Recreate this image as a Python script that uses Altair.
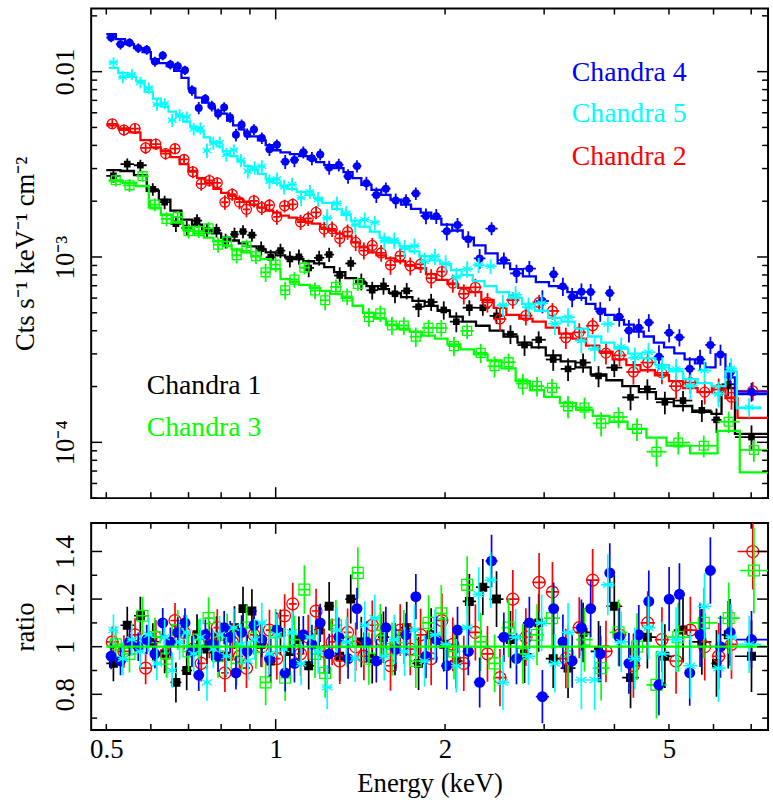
import altair as alt
import pandas as pd

FONT = "Liberation Serif"

# ---------------- data ----------------
# bin edges (keV), model (log10 cts/s/keV/cm2) per bin, data/model ratio, ratio error

# Chandra 1 (black)
c1_edges = [0.50, 0.53, 0.56, 0.59, 0.62, 0.65, 0.68, 0.71, 0.74, 0.77, 0.80, 0.83, 0.86, 0.89,
            0.925, 0.96, 1.00, 1.04, 1.08, 1.12, 1.17, 1.22, 1.27, 1.33, 1.39, 1.45,
            1.52, 1.59, 1.67, 1.75, 1.84, 1.94, 2.04, 2.15, 2.27, 2.40, 2.54, 2.69, 2.85, 3.02,
            3.21, 3.41, 3.63, 3.87, 4.13, 4.42, 4.74, 5.10, 5.50, 5.95, 6.20, 6.55, 7.50]
c1_model_log = [-2.531, -2.536, -2.558, -2.643, -2.691, -2.750, -2.798, -2.825, -2.852, -2.873,
                -2.895, -2.911, -2.927, -2.943, -2.959, -2.975, -2.991, -3.002, -3.012, -3.023,
                -3.034, -3.055, -3.082, -3.114, -3.141, -3.157, -3.173, -3.194, -3.216, -3.237,
                -3.264, -3.290, -3.322, -3.349, -3.371, -3.397, -3.429, -3.462, -3.488, -3.531,
                -3.563, -3.595, -3.633, -3.665, -3.697, -3.729, -3.766, -3.804, -3.836, -3.847,
                -3.708, -3.954]
c1_ratio = [0.93, 1.09, 1.13, 1.02, 0.97, 0.85, 0.90, 1.05, 0.99, 1.04,
            0.96, 1.08, 1.16, 1.15, 1.01, 0.94, 1.06, 0.98, 1.03, 0.92,
            1.07, 1.17, 0.96, 1.20, 1.02, 0.95, 1.04, 0.99, 1.08, 0.93,
            1.05, 1.01, 0.94, 1.19, 1.25, 1.20, 1.03, 0.97, 1.10, 0.95,
            0.91, 1.06, 0.98, 1.17, 0.87, 1.04, 0.96, 1.07, 1.02, 0.93, 1.05, 0.96]
c1_err = [0.075, 0.078, 0.080, 0.079, 0.082, 0.084, 0.083, 0.086, 0.085, 0.088,
          0.087, 0.090, 0.092, 0.091, 0.094, 0.093, 0.096, 0.098, 0.097, 0.100,
          0.099, 0.102, 0.104, 0.103, 0.106, 0.105, 0.108, 0.110, 0.109, 0.112,
          0.111, 0.114, 0.116, 0.115, 0.118, 0.117, 0.120, 0.122, 0.121, 0.124,
          0.126, 0.125, 0.128, 0.130, 0.129, 0.132, 0.134, 0.136, 0.138, 0.140, 0.142, 0.150]

# Chandra 2 (red)
c2_edges = [0.50, 0.525, 0.55, 0.575, 0.60, 0.625, 0.65, 0.675, 0.70, 0.725, 0.75, 0.775, 0.80,
            0.825, 0.85, 0.875, 0.90, 0.93, 0.96, 0.99, 1.02, 1.055, 1.09, 1.125, 1.16,
            1.20, 1.24, 1.28, 1.32, 1.365, 1.41, 1.46, 1.51, 1.57, 1.63, 1.70, 1.77, 1.85, 1.93,
            2.02, 2.11, 2.21, 2.32, 2.44, 2.57, 2.71, 2.86, 3.02, 3.19, 3.37, 3.56, 3.76, 3.97,
            4.20, 4.45, 4.72, 5.00, 5.30, 5.62, 5.96, 6.30, 6.62, 7.50]
c2_model_log = [-2.290, -2.306, -2.328, -2.370, -2.408, -2.429, -2.461, -2.499, -2.536, -2.574,
                -2.600, -2.633, -2.654, -2.670, -2.686, -2.702, -2.718, -2.734, -2.750, -2.761,
                -2.777, -2.788, -2.798, -2.809, -2.820, -2.841, -2.857, -2.873, -2.889, -2.921,
                -2.948, -2.975, -2.991, -3.007, -3.023, -3.044, -3.060, -3.092, -3.124, -3.146,
                -3.167, -3.189, -3.231, -3.274, -3.312, -3.333, -3.349, -3.381, -3.413, -3.440,
                -3.478, -3.510, -3.552, -3.584, -3.611, -3.638, -3.670, -3.707, -3.729, -3.697,
                -3.761, -3.868]
c2_ratio = [1.02, 0.98, 1.05, 0.91, 1.04, 0.97, 1.11, 1.06, 0.99, 0.93,
            1.03, 1.08, 0.89, 1.02, 0.96, 0.91, 1.05, 1.00, 1.07, 0.95,
            1.13, 1.18, 0.97, 1.04, 1.15, 0.98, 1.02, 0.94, 1.06, 1.00,
            0.96, 1.09, 1.03, 0.92, 1.07, 0.99, 1.05, 0.95, 1.11, 1.01,
            0.93, 1.06, 0.97, 0.87, 1.20, 1.04, 1.27, 1.23, 0.95, 1.08,
            1.28, 0.98, 1.05, 0.92, 1.10, 1.03, 0.94, 1.07, 1.00, 0.96, 1.01, 1.40]
c2_err = [0.065, 0.068, 0.070, 0.068, 0.072, 0.070, 0.074, 0.072, 0.075, 0.076,
          0.078, 0.077, 0.080, 0.079, 0.082, 0.084, 0.083, 0.086, 0.085, 0.088,
          0.090, 0.089, 0.092, 0.094, 0.093, 0.096, 0.098, 0.097, 0.100, 0.102,
          0.101, 0.104, 0.106, 0.105, 0.108, 0.110, 0.109, 0.112, 0.114, 0.113,
          0.116, 0.118, 0.117, 0.120, 0.122, 0.121, 0.124, 0.126, 0.125, 0.128,
          0.130, 0.129, 0.132, 0.134, 0.133, 0.136, 0.138, 0.140, 0.142, 0.140, 0.145, 0.160]

# Chandra 3 (green)
c3_edges = [0.505, 0.535, 0.565, 0.595, 0.625, 0.655, 0.685, 0.715, 0.745, 0.775, 0.805, 0.835,
            0.87, 0.905, 0.94, 0.98, 1.02, 1.06, 1.10, 1.15, 1.20, 1.25, 1.31, 1.37, 1.43,
            1.50, 1.57, 1.65, 1.73, 1.82, 1.92, 2.02, 2.13, 2.25, 2.38, 2.52, 2.67, 2.83, 3.00,
            3.20, 3.42, 3.66, 3.92, 4.22, 4.56, 4.95, 5.45, 6.10, 6.68, 7.50]
c3_model_log = [-2.590, -2.600, -2.617, -2.734, -2.772, -2.814, -2.852, -2.873, -2.895, -2.916,
                -2.938, -2.959, -2.975, -2.996, -3.012, -3.066, -3.119, -3.135, -3.151, -3.167,
                -3.183, -3.199, -3.221, -3.263, -3.301, -3.333, -3.365, -3.387, -3.403, -3.424,
                -3.440, -3.472, -3.499, -3.526, -3.558, -3.601, -3.670, -3.718, -3.755, -3.788,
                -3.825, -3.857, -3.889, -3.927, -3.975, -4.018, -4.060, -3.938, -4.162]
c3_ratio = [1.01, 0.97, 1.13, 1.04, 0.95, 1.07, 0.98, 1.03, 1.12, 0.96,
            1.05, 0.93, 1.08, 1.00, 0.85, 1.06, 0.87, 1.03, 1.24, 0.97,
            0.89, 1.09, 1.02, 1.31, 0.95, 1.07, 0.99, 1.04, 0.94, 1.10,
            1.14, 0.98, 1.26, 1.02, 0.93, 1.08, 0.97, 1.05, 1.12, 0.96,
            1.03, 0.91, 1.06, 1.00, 0.84, 1.04, 1.10, 1.12, 1.32]
c3_err = [0.075, 0.078, 0.080, 0.082, 0.081, 0.084, 0.086, 0.085, 0.088, 0.090,
          0.089, 0.092, 0.094, 0.093, 0.096, 0.098, 0.097, 0.100, 0.102, 0.101,
          0.104, 0.106, 0.105, 0.108, 0.110, 0.109, 0.112, 0.114, 0.113, 0.116,
          0.118, 0.117, 0.120, 0.122, 0.121, 0.124, 0.126, 0.128, 0.130, 0.132,
          0.134, 0.136, 0.138, 0.140, 0.142, 0.145, 0.148, 0.150, 0.180]

# Chandra 4 (blue)
c4_edges = [0.50, 0.52, 0.54, 0.56, 0.58, 0.60, 0.62, 0.64, 0.66, 0.68, 0.70, 0.72, 0.74, 0.76,
            0.78, 0.80, 0.82, 0.84, 0.86, 0.88, 0.90, 0.93, 0.96, 0.99, 1.02, 1.06, 1.10, 1.14,
            1.18, 1.22, 1.27, 1.32, 1.37, 1.42, 1.48, 1.54, 1.60, 1.67, 1.74, 1.81, 1.89, 1.97,
            2.06, 2.15, 2.25, 2.36, 2.48, 2.61, 2.75, 2.90, 3.06, 3.18, 3.30, 3.43, 3.56, 3.70,
            3.85, 4.00, 4.16, 4.33, 4.51, 4.70, 4.90, 5.11, 5.33, 5.56, 5.80, 6.05, 6.30, 6.55, 7.50]
c4_model_log = [-1.798, -1.825, -1.852, -1.873, -1.895, -1.932, -1.954, -1.970, -1.996, -2.034,
                -2.092, -2.140, -2.167, -2.189, -2.210, -2.226, -2.264, -2.290, -2.312, -2.328,
                -2.349, -2.371, -2.397, -2.424, -2.435, -2.445, -2.456, -2.472, -2.488, -2.504,
                -2.520, -2.542, -2.574, -2.611, -2.638, -2.665, -2.691, -2.718, -2.740, -2.761,
                -2.793, -2.825, -2.857, -2.895, -2.937, -2.980, -3.034, -3.066, -3.104, -3.135,
                -3.157, -3.167, -3.189, -3.221, -3.253, -3.280, -3.312, -3.339, -3.365, -3.403,
                -3.429, -3.462, -3.488, -3.520, -3.552, -3.574, -3.595, -3.526, -3.650, -3.740]
c4_ratio = [0.96, 0.94, 1.02, 1.00, 1.03, 0.97, 1.10, 1.02, 1.06, 1.10,
            0.98, 0.88, 1.05, 1.01, 0.96, 1.08, 1.04, 0.89, 1.06, 0.98,
            1.09, 1.03, 0.95, 1.07, 0.89, 0.93, 1.05, 1.01, 1.10, 0.97,
            1.04, 0.95, 1.16, 1.02, 0.94, 1.08, 0.99, 1.05, 1.21, 0.96,
            1.03, 0.92, 1.07, 0.98, 0.85, 1.36, 1.04, 0.95, 1.10, 0.79,
            1.16, 1.02, 0.94, 1.08, 1.16, 0.97, 1.31, 1.04, 0.93, 1.05,
            1.19, 0.84, 1.20, 1.22, 0.89, 1.05, 1.32, 1.00, 1.06, 1.03]
c4_err = [0.055, 0.060, 0.058, 0.060, 0.062, 0.060, 0.063, 0.061, 0.064, 0.062,
          0.065, 0.066, 0.064, 0.068, 0.066, 0.070, 0.068, 0.070, 0.072, 0.070,
          0.072, 0.074, 0.075, 0.074, 0.078, 0.080, 0.079, 0.082, 0.080, 0.084,
          0.083, 0.085, 0.088, 0.086, 0.090, 0.088, 0.092, 0.090, 0.095, 0.093,
          0.096, 0.100, 0.098, 0.100, 0.105, 0.110, 0.104, 0.108, 0.110, 0.112,
          0.110, 0.115, 0.112, 0.118, 0.120, 0.118, 0.125, 0.122, 0.128, 0.125,
          0.130, 0.128, 0.135, 0.130, 0.138, 0.135, 0.140, 0.130, 0.140, 0.120]

# Chandra 5 (cyan)
c5_edges = [0.505, 0.525, 0.545, 0.565, 0.585, 0.605, 0.625, 0.645, 0.665, 0.685, 0.705, 0.725,
            0.745, 0.765, 0.785, 0.805, 0.83, 0.855, 0.88, 0.905, 0.93, 0.96, 0.99, 1.02, 1.05,
            1.09, 1.13, 1.17, 1.21, 1.26, 1.31, 1.36, 1.41, 1.47, 1.53, 1.59, 1.66, 1.73, 1.80,
            1.88, 1.96, 2.05, 2.14, 2.24, 2.35, 2.47, 2.60, 2.74, 2.89, 3.05, 3.22, 3.40, 3.59,
            3.79, 4.00, 4.23, 4.47, 4.73, 5.00, 5.30, 5.62, 5.95, 6.30, 6.60, 7.30]
c5_model_log = [-1.980, -2.007, -2.028, -2.050, -2.109, -2.146, -2.189, -2.216, -2.242, -2.269,
                -2.296, -2.322, -2.355, -2.381, -2.403, -2.429, -2.456, -2.483, -2.510, -2.531,
                -2.552, -2.579, -2.600, -2.617, -2.633, -2.649, -2.665, -2.681, -2.708, -2.740,
                -2.772, -2.804, -2.836, -2.863, -2.895, -2.922, -2.943, -2.970, -2.996, -3.018,
                -3.039, -3.071, -3.098, -3.130, -3.157, -3.189, -3.221, -3.253, -3.290, -3.328,
                -3.349, -3.386, -3.429, -3.462, -3.494, -3.521, -3.547, -3.584, -3.617, -3.659,
                -3.681, -3.697, -3.617, -3.815]
c5_ratio = [1.07, 0.95, 1.03, 0.98, 1.05, 0.93, 1.04, 0.90, 1.02, 1.06,
            0.97, 1.04, 0.85, 0.99, 1.05, 0.96, 1.08, 1.01, 0.94, 1.03,
            1.10, 0.97, 1.05, 0.99, 1.06, 0.93, 1.04, 0.98, 0.83, 1.07,
            1.02, 0.95, 1.09, 1.12, 0.96, 1.03, 0.98, 1.07, 0.94, 1.05,
            1.01, 0.92, 1.08, 1.22, 1.28, 0.85, 1.04, 0.96, 1.10, 0.93,
            1.06, 0.86, 0.86, 1.26, 1.02, 0.95, 1.08, 0.97, 1.03, 0.92,
            1.17, 0.91, 1.04, 1.01]
c5_err = [0.065, 0.070, 0.068, 0.070, 0.072, 0.070, 0.074, 0.072, 0.075, 0.074,
          0.076, 0.078, 0.077, 0.080, 0.079, 0.082, 0.080, 0.084, 0.083, 0.086,
          0.085, 0.088, 0.087, 0.090, 0.089, 0.092, 0.091, 0.094, 0.093, 0.096,
          0.095, 0.098, 0.100, 0.099, 0.102, 0.104, 0.103, 0.106, 0.108, 0.107,
          0.110, 0.112, 0.111, 0.114, 0.116, 0.115, 0.118, 0.120, 0.119, 0.122,
          0.124, 0.123, 0.126, 0.128, 0.127, 0.130, 0.132, 0.134, 0.136, 0.138,
          0.140, 0.142, 0.140, 0.120]

# axis ticks / labels
x_labels = [0.5, 1, 2, 5]
x_major_ticks = [1]
x_minor_ticks = [0.5, 0.6, 0.7, 0.8, 0.9, 2, 3, 4, 5, 6, 7]
y_major_ticks = [1e-4, 1e-3, 1e-2]
y_minor_ticks = [5e-5, 6e-5, 7e-5, 8e-5, 9e-5, 2e-4, 3e-4, 4e-4, 5e-4, 6e-4, 7e-4, 8e-4, 9e-4,
                 2e-3, 3e-3, 4e-3, 5e-3, 6e-3, 7e-3, 8e-3, 9e-3, 2e-2]
r_major_ticks = [0.8, 1.0, 1.2, 1.4]
r_minor_ticks = [0.7, 0.9, 1.1, 1.3]

ASTERISK = "M0,-1L0,1M-0.87,-0.5L0.87,0.5M-0.87,0.5L0.87,-0.5"

# marker sizes: (top panel, ratio panel)
SERIES = [
    dict(name="Chandra 1", color="#000000", shape="square", filled=True, size=(45, 81),
         edges=c1_edges, mlog=c1_model_log, ratio=c1_ratio, err=c1_err),
    dict(name="Chandra 2", color="#ff0000", shape="circle", filled=False, size=(100, 144),
         edges=c2_edges, mlog=c2_model_log, ratio=c2_ratio, err=c2_err),
    dict(name="Chandra 3", color="#00ff00", shape="square", filled=False, size=(80, 121),
         edges=c3_edges, mlog=c3_model_log, ratio=c3_ratio, err=c3_err),
    dict(name="Chandra 4", color="#0000ff", shape="circle", filled=True, size=(64, 121),
         edges=c4_edges, mlog=c4_model_log, ratio=c4_ratio, err=c4_err),
    dict(name="Chandra 5", color="#00ffff", shape=ASTERISK, filled=False, size=(100, 144),
         edges=c5_edges, mlog=c5_model_log, ratio=c5_ratio, err=c5_err),
]

for s in SERIES:
    n = len(s["mlog"])
    assert len(s["edges"]) == n + 1, (s["name"], len(s["edges"]), n)
    assert len(s["ratio"]) == n and len(s["err"]) == n, (s["name"], len(s["ratio"]), len(s["err"]), n)


def bins_frame(s):
    e = s["edges"]
    rows = []
    for i, (m, r, er) in enumerate(zip(s["mlog"], s["ratio"], s["err"])):
        lo, hi = e[i], e[i + 1]
        mod = 10 ** m
        rows.append(dict(lo=lo, hi=hi, e=(lo * hi) ** 0.5, ratio=r, rlo=r - er, rhi=r + er,
                         data=mod * r, dlo=mod * (r - er), dhi=mod * (r + er)))
    return pd.DataFrame(rows)


def step_frame(s):
    vals = [10 ** v for v in s["mlog"]]
    return pd.DataFrame({"edge": s["edges"], "model": vals + [vals[-1]]})


W = 683
H_TOP = 494
H_BOT = 209
FS = 27
FS_LEG = 28

xsc = alt.Scale(type="log", domain=[0.47, 7.5], nice=False)
ysc_top = alt.Scale(type="log", domain=[5.0e-5, 0.0219], nice=False)
ysc_bot = alt.Scale(domain=[0.65, 1.52], nice=False, zero=False)

AX = dict(ticks=False, domain=False, grid=False, labelFlush=False, labelOverlap=False,
          labelFont=FONT, titleFont=FONT, labelFontSize=FS, titleFontSize=FS,
          labelColor="black", titleColor="black", titleFontWeight="normal")

ytop_axis = alt.Axis(values=y_major_ticks,
                     labelExpr="datum.value > 0.005 ? '0.01' : (datum.value > 0.0005 ? '10\u207b\u00b3' : '10\u207b\u2074')",
                     labelAngle=270, labelAlign="center", labelBaseline="bottom", labelPadding=12,
                     title="Cts s\u207b\u00b9 keV\u207b\u00b9 cm\u207b\u00b2", titlePadding=12, **AX)
ybot_axis = alt.Axis(values=r_major_ticks, format="~g",
                     labelAngle=270, labelAlign="center", labelBaseline="bottom", labelPadding=12,
                     title="ratio", titlePadding=12, **AX)
xbot_axis = alt.Axis(values=x_labels, format="~g", labelPadding=7, labelAngle=0,
                     title="Energy (keV)", titlePadding=8, **AX)


def XT(f):
    return alt.X(f"{f}:Q", scale=xsc, axis=None)


def XB(f):
    return alt.X(f"{f}:Q", scale=xsc, axis=xbot_axis)


def YT(f):
    return alt.Y(f"{f}:Q", scale=ysc_top, axis=ytop_axis)


def YB(f):
    return alt.Y(f"{f}:Q", scale=ysc_bot, axis=ybot_axis)


def tick_layers(X, Y, xmaj, xmin, ymaj, ymin, H):
    layers = []
    for vals, ln in ((xmaj, 11), (xmin, 6)):
        df = pd.DataFrame({"v": vals})
        layers.append(alt.Chart(df).mark_rule(color="black", strokeWidth=1.5).encode(
            x=X("v"), y=alt.value(0), y2=alt.value(ln)))
        layers.append(alt.Chart(df).mark_rule(color="black", strokeWidth=1.5).encode(
            x=X("v"), y=alt.value(H), y2=alt.value(H - ln)))
    for vals, ln in ((ymaj, 11), (ymin, 6)):
        df = pd.DataFrame({"v": vals})
        layers.append(alt.Chart(df).mark_rule(color="black", strokeWidth=1.5).encode(
            y=Y("v"), x=alt.value(0), x2=alt.value(ln)))
        layers.append(alt.Chart(df).mark_rule(color="black", strokeWidth=1.5).encode(
            y=Y("v"), x=alt.value(W), x2=alt.value(W - ln)))
    return layers


top_layers = []
bot_layers = []
for s in SERIES:
    b = bins_frame(s)
    st = step_frame(s)
    col = s["color"]
    pt_top = dict(shape=s["shape"], filled=s["filled"], size=s["size"][0], color=col, opacity=1,
                  strokeWidth=1.3, clip=True)
    pt_bot = dict(pt_top, size=s["size"][1])
    # top panel
    top_layers.append(alt.Chart(b).mark_rule(color=col, strokeWidth=1.8, clip=True).encode(
        x=XT("e"), y=YT("dlo"), y2="dhi"))
    top_layers.append(alt.Chart(b).mark_rule(color=col, strokeWidth=1.8, clip=True).encode(
        x=XT("lo"), x2="hi", y=YT("data")))
    top_layers.append(alt.Chart(b).mark_point(**pt_top).encode(x=XT("e"), y=YT("data")))
    top_layers.append(alt.Chart(st).mark_line(color=col, strokeWidth=2.3, interpolate="step-after",
                                              clip=True).encode(x=XT("edge"), y=YT("model")))
    # ratio panel
    bot_layers.append(alt.Chart(b).mark_rule(color=col, strokeWidth=1.7, clip=True).encode(
        x=XB("e"), y=YB("rlo"), y2="rhi"))
    bot_layers.append(alt.Chart(b).mark_rule(color=col, strokeWidth=1.7, clip=True).encode(
        x=XB("lo"), x2="hi", y=YB("ratio")))
    bot_layers.append(alt.Chart(b).mark_point(**pt_bot).encode(x=XB("e"), y=YB("ratio")))

# unity line in ratio panel
one_df = pd.DataFrame({"x": [min(s["edges"][0] for s in SERIES)],
                       "x2": [max(s["edges"][-1] for s in SERIES)], "y": [1.0]})
bot_layers.append(alt.Chart(one_df).mark_rule(color="#00ff00", strokeWidth=2.2).encode(
    x=XB("x"), x2="x2", y=YB("y")))

# in-plot labels
label_pos = {"Chandra 4": (485, 73), "Chandra 5": (485, 114), "Chandra 2": (485, 158),
             "Chandra 1": (56, 389), "Chandra 3": (56, 431)}
for s in SERIES:
    px, py = label_pos[s["name"]]
    top_layers.append(alt.Chart(pd.DataFrame({"t": [s["name"]]})).mark_text(
        font=FONT, fontSize=FS_LEG, color=s["color"], align="left", baseline="alphabetic").encode(
        text="t:N", x=alt.value(px), y=alt.value(py)))

top_layers += tick_layers(XT, YT, x_major_ticks, x_minor_ticks, y_major_ticks, y_minor_ticks, H_TOP)
bot_layers += tick_layers(XB, YB, x_major_ticks, x_minor_ticks, r_major_ticks, r_minor_ticks, H_BOT)

top = alt.layer(*top_layers).properties(width=W, height=H_TOP)
bottom = alt.layer(*bot_layers).properties(width=W, height=H_BOT)

chart = alt.vconcat(top, bottom, spacing=21).properties(
    padding={"left": 10, "top": 3, "right": 2, "bottom": 2}
).configure(font=FONT, background="white").configure_view(
    stroke="black", strokeWidth=2
).configure_axis(
    labelFont=FONT, titleFont=FONT, labelFontSize=FS, titleFontSize=FS, labelColor="black",
    titleColor="black", titleFontWeight="normal"
)

chart.save("out.html", embed_options={"renderer": "svg", "actions": False})
